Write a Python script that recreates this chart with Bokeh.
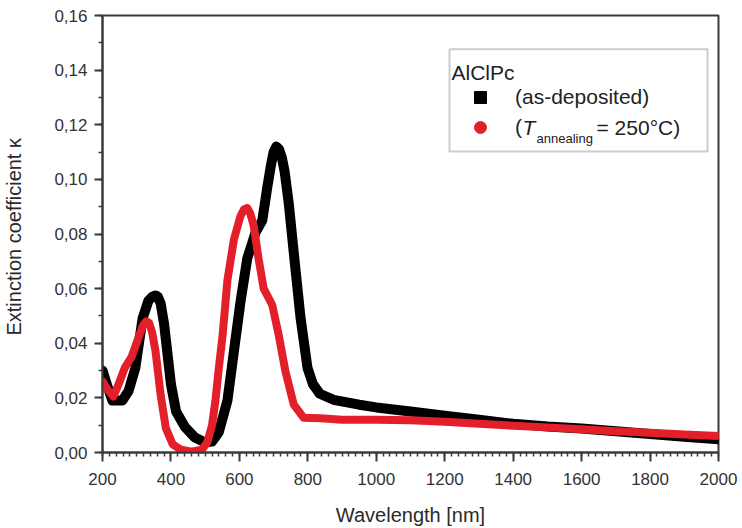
from bokeh.plotting import figure
from bokeh.models import Range1d, FixedTicker, Legend, LegendItem, BoxAnnotation, Label
from bokeh.embed import file_html
from bokeh.resources import INLINE

# ---- data ----
wl_asdep = [200, 215, 229, 258, 276, 296, 317, 334, 345, 355, 362, 370, 380, 390, 400,
            415, 440, 470, 500, 520, 540, 565, 584, 603, 623, 647, 667, 682, 692, 700,
            708, 716, 724, 732, 744, 759, 779, 799, 815, 835, 875, 950, 1000, 1100, 1200,
            1300, 1400, 1500, 1600, 1700, 1800, 1900, 2000]
k_asdep = [0.030, 0.024, 0.019, 0.019, 0.0225, 0.031, 0.049, 0.0555, 0.057, 0.0575,
           0.057, 0.0545, 0.047, 0.036, 0.025, 0.015, 0.0095, 0.0055, 0.0037, 0.004,
           0.0075, 0.019, 0.037, 0.055, 0.071, 0.0805, 0.085, 0.0975, 0.105, 0.110,
           0.112, 0.111, 0.108, 0.103, 0.0915, 0.073, 0.049, 0.031, 0.025, 0.0215,
           0.0193, 0.0175, 0.0165, 0.015, 0.0135, 0.012, 0.0105, 0.0095, 0.0088, 0.0078,
           0.0068, 0.0058, 0.0048]

wl_ann = [200, 215, 232, 247, 265, 285, 305, 318, 328, 336, 345, 355, 370, 385, 405,
          430, 460, 490, 506, 520, 530, 540, 551, 565, 584, 603, 613, 623, 632, 642,
          656, 671, 696, 715, 734, 759, 788, 837, 900, 1000, 1100, 1200, 1300, 1400,
          1500, 1600, 1700, 1800, 1900, 2000]
k_ann = [0.026, 0.023, 0.0205, 0.025, 0.031, 0.035, 0.042, 0.0465, 0.048, 0.0475,
         0.044, 0.037, 0.021, 0.009, 0.003, 0.001, 0.0003, 0.001, 0.0036, 0.010,
         0.019, 0.031, 0.043, 0.063, 0.078, 0.0865, 0.089, 0.0895, 0.0875, 0.083,
         0.071, 0.060, 0.054, 0.043, 0.030, 0.0175, 0.0127, 0.0125, 0.012, 0.012,
         0.0118, 0.0113, 0.0105, 0.0098, 0.0092, 0.0085, 0.0078, 0.0072, 0.0066, 0.006]

x_ticks = [200, 400, 600, 800, 1000, 1200, 1400, 1600, 1800, 2000]
x_tick_labels = ["200", "400", "600", "800", "1000", "1200", "1400", "1600", "1800", "2000"]
y_ticks = [0.0, 0.02, 0.04, 0.06, 0.08, 0.10, 0.12, 0.14, 0.16]
y_tick_labels = ["0,00", "0,02", "0,04", "0,06", "0,08", "0,10", "0,12", "0,14", "0,16"]

legend_title = "AlClPc"
label_asdep = "(as-deposited)"

# ---- figure ----
FONT = "Liberation Sans"
AX = "#3a3a3a"
BLACK = "#000000"
RED = "#e3202a"
TXT = "#222222"

X0, X1, Y0, Y1 = 200, 2000, 0.0, 0.16
W, H = 742, 528
ML, MR, MT, MB = 102, 24, 15, 73

p = figure(width=W, height=H, output_backend="svg", toolbar_location=None,
           x_range=Range1d(X0, X1), y_range=Range1d(Y0, Y1),
           min_border_left=ML, min_border_right=MR, min_border_top=MT, min_border_bottom=MB)
p.background_fill_color = "white"
p.border_fill_color = "white"
p.grid.visible = False
p.outline_line_color = AX
p.outline_line_width = 2

FW = W - ML - MR
FH = H - MT - MB
def px_x(ix):
    return X0 + (ix - ML) * (X1 - X0) / FW
def px_y(iy):
    return Y1 - (iy - MT) * (Y1 - Y0) / FH

# axes
p.xaxis.ticker = FixedTicker(ticks=x_ticks, minor_ticks=[v for v in range(200, 2001, 20)])
p.yaxis.ticker = FixedTicker(ticks=y_ticks, minor_ticks=[i * 0.01 for i in range(17)])
p.xaxis.major_label_overrides = dict(zip(x_ticks, x_tick_labels))
p.yaxis.major_label_overrides = dict(zip(y_ticks, y_tick_labels))
for ax in (p.xaxis[0], p.yaxis[0]):
    ax.axis_line_color = AX
    ax.axis_line_width = 2
    ax.major_tick_line_color = AX
    ax.major_tick_line_width = 2
    ax.minor_tick_line_color = AX
    ax.minor_tick_line_width = 1.5
    ax.major_tick_in = 0
    ax.minor_tick_in = 0
    ax.major_label_text_font = FONT
    ax.major_label_text_font_size = "17px"
    ax.major_label_text_color = "#333333"
    ax.axis_label_text_font = FONT
    ax.axis_label_text_font_style = "normal"
    ax.axis_label_text_font_size = "20px"
    ax.axis_label_text_color = "#2a2a2a"
p.xaxis.major_tick_out = 9
p.xaxis.minor_tick_out = 4
p.yaxis.major_tick_out = 8
p.yaxis.minor_tick_out = 4
p.xaxis.major_label_standoff = 11
p.yaxis.major_label_standoff = 7
p.xaxis.axis_label = "Wavelength [nm]"
p.yaxis.axis_label = "Extinction coefficient  \u03ba"
p.xaxis.axis_label_standoff = 16
p.yaxis.axis_label_standoff = 26

# curves
p.line(wl_asdep, k_asdep, line_color=BLACK, line_width=10, line_join="round", line_cap="round")
sq = p.scatter(wl_asdep, k_asdep, marker="square", size=5, fill_color=BLACK, line_color=BLACK)
p.line(wl_ann, k_ann, line_color=RED, line_width=8, line_join="round", line_cap="round")
ci = p.scatter(wl_ann, k_ann, marker="circle", size=5, fill_color=RED, line_color=RED)

# legend box + title
box = BoxAnnotation(left=px_x(449), right=px_x(707), top=px_y(49), bottom=px_y(152),
                    fill_alpha=0, line_color="#555555", line_width=2)
p.add_layout(box)
p.add_layout(Label(x=px_x(451), y=px_y(72), text=legend_title, text_font=FONT,
                   text_font_size="21px", text_color=TXT, text_baseline="middle"))

legend = Legend(items=[LegendItem(label=label_asdep, renderers=[sq]),
                       LegendItem(label="(", renderers=[ci])],
                location=(465 - ML, H - MB - 145),
                padding=0, margin=0, spacing=0, glyph_width=30, glyph_height=30,
                label_standoff=20, border_line_alpha=0, background_fill_alpha=0,
                label_text_font=FONT, label_text_font_size="21px", label_text_color=TXT)
p.add_layout(legend)

# rest of second legend entry (italic T with subscript)
p.add_layout(Label(x=px_x(522), y=px_y(128), text="T", text_font=FONT, text_font_style="italic",
                   text_font_size="21px", text_color=TXT, text_baseline="middle"))
p.add_layout(Label(x=px_x(536), y=px_y(139), text="annealing", text_font=FONT,
                   text_font_size="13px", text_color=TXT, text_baseline="middle"))
p.add_layout(Label(x=px_x(596), y=px_y(128), text="= 250\u00b0C)", text_font=FONT,
                   text_font_size="21px", text_color=TXT, text_baseline="middle"))

open("out.html", "w").write(file_html(p, INLINE))
